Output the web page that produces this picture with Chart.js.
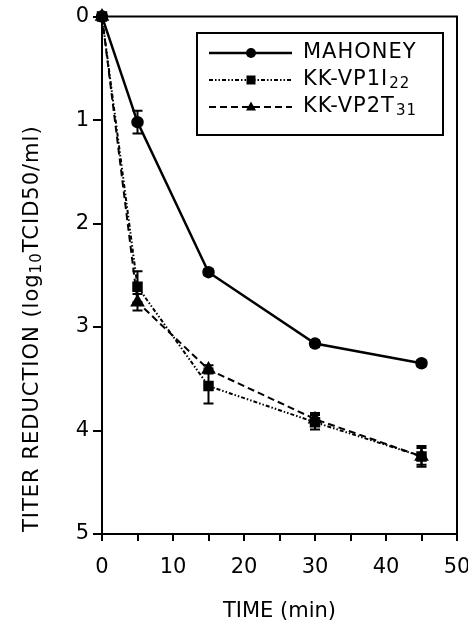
<!DOCTYPE html>
<html>
<head>
<meta charset="utf-8">
<script src="https://cdn.jsdelivr.net/npm/chart.js@4/dist/chart.umd.min.js"></script>
<style>
  body { margin: 0; background: #fff; }
  canvas { display: block; }
</style>
</head>
<body>
<canvas id="titer" width="468" height="624"></canvas>
<script>
// time points (min) and titer reduction (log10 TCID50/ml)
var times = [0, 5, 15, 30, 45];
var mahoney = [0, 1.02, 2.47, 3.16, 3.35];
var mahoneyErr = [0, 0.11, 0.03, 0.03, 0.03];
var vp1 = [0, 2.61, 3.57, 3.92, 4.25];
var vp1Err = [0, 0.15, 0.17, 0.07, 0.1];
var vp2 = [0, 2.76, 3.41, 3.89, 4.25];
var vp2Err = [0, 0.08, 0.04, 0.06, 0.08];
var yTicks = [0, 1, 2, 3, 4, 5];
var xTicks = [0, 10, 20, 30, 40, 50];

var FONT = "'DejaVu Sans', sans-serif";

function points(ys) {
    return times.map(function(t, i) { return { x: t, y: ys[i] }; });
}

// series name with a lowered small number, e.g. KK-VP1I + 22
var legendRows = [
    { main: "MAHONEY", sub: "", style: "circle", dash: [] },
    { main: "KK-VP1I", sub: "22", style: "rect", dash: [4, 2, 1.5, 2, 1.5, 2] },
    { main: "KK-VP2T", sub: "31", style: "triangle", dash: [7, 4] }
];
var errors = [mahoneyErr, vp1Err, vp2Err];

function marker(ctx, style, x, y, r) {
    ctx.beginPath();
    if (style == "circle") {
        ctx.arc(x, y, r, 0, Math.PI * 2);
    } else if (style == "rect") {
        ctx.rect(x - r * 0.9, y - r * 0.9, r * 1.8, r * 1.8);
    } else {
        ctx.moveTo(x, y - r * 1.1);
        ctx.lineTo(x + r, y + r * 0.7);
        ctx.lineTo(x - r, y + r * 0.7);
        ctx.closePath();
    }
    ctx.fill();
}

var extras = {
    id: "extras",
    afterDatasetsDraw: function(chart) {
        var ctx = chart.ctx, xs = chart.scales.x, ys = chart.scales.y;
        var area = chart.chartArea;
        ctx.save();
        ctx.strokeStyle = "#000";
        ctx.fillStyle = "#000";

        // error bars
        ctx.lineWidth = 2;
        chart.data.datasets.forEach(function(ds, i) {
            ds.data.forEach(function(p, j) {
                var e = errors[i][j];
                if (!e) return;
                var x = xs.getPixelForValue(p.x);
                var y0 = ys.getPixelForValue(p.y - e);
                var y1 = ys.getPixelForValue(p.y + e);
                ctx.beginPath();
                ctx.moveTo(x, y0); ctx.lineTo(x, y1);
                ctx.moveTo(x - 5, y0); ctx.lineTo(x + 5, y0);
                ctx.moveTo(x - 5, y1); ctx.lineTo(x + 5, y1);
                ctx.stroke();
            });
        });

        // top and right frame
        ctx.lineWidth = 2;
        ctx.beginPath();
        ctx.moveTo(area.left, area.top);
        ctx.lineTo(area.right, area.top);
        ctx.lineTo(area.right, area.bottom);
        ctx.stroke();

        // legend box
        ctx.lineWidth = 2;
        ctx.strokeRect(197, 33, 246, 102);
        legendRows.forEach(function(row, i) {
            var y = 53 + i * 27;
            ctx.lineWidth = i == 0 ? 2.5 : 2;
            ctx.setLineDash(row.dash);
            ctx.beginPath();
            ctx.moveTo(209, y); ctx.lineTo(292, y);
            ctx.stroke();
            ctx.setLineDash([]);
            marker(ctx, row.style, 251, y, 5);
            ctx.textBaseline = "middle";
            ctx.textAlign = "left";
            ctx.letterSpacing = "1px";
            ctx.font = "21px " + FONT;
            ctx.fillText(row.main, 303, y);
            if (row.sub) {
                var w = ctx.measureText(row.main).width;
                ctx.font = "15px " + FONT;
                ctx.fillText(row.sub, 304 + w, y + 4);
            }
        });

        // y axis title, reading upward, with log subscript
        ctx.translate(33, 532);
        ctx.rotate(-Math.PI / 2);
        ctx.textBaseline = "middle";
        ctx.textAlign = "left";
        ctx.letterSpacing = "1px";
        var parts = [["TITER REDUCTION (log", 21, 0], ["10", 15, 4], ["TCID50/ml)", 21, 0]];
        var px = 0;
        parts.forEach(function(pt) {
            ctx.font = pt[1] + "px " + FONT;
            ctx.fillText(pt[0], px, pt[2]);
            px += ctx.measureText(pt[0]).width;
        });
        ctx.restore();
    }
};

new Chart(document.getElementById("titer"), {
    type: "line",
    data: {
        datasets: [
            {
                label: "MAHONEY", data: points(mahoney),
                borderColor: "#000", backgroundColor: "#000", borderWidth: 2.5,
                pointStyle: "circle", pointRadius: 5
            },
            {
                label: "KK-VP1I22", data: points(vp1),
                borderColor: "#000", backgroundColor: "#000", borderWidth: 2,
                borderDash: legendRows[1].dash,
                pointStyle: "rect", pointRadius: 6
            },
            {
                label: "KK-VP2T31", data: points(vp2),
                borderColor: "#000", backgroundColor: "#000", borderWidth: 2,
                borderDash: legendRows[2].dash,
                pointStyle: "triangle", pointRadius: 6.5
            }
        ]
    },
    options: {
        responsive: false,
        animation: false,
        devicePixelRatio: 1,
        clip: false,
        tension: 0,
        layout: { padding: { top: 16, right: 11, left: 0, bottom: 0 } },
        plugins: { legend: { display: false }, tooltip: { enabled: false } },
        scales: {
            x: {
                type: "linear", min: 0, max: 50,
                afterFit: function(s) { s.height = 90; s.paddingLeft = 0; s.paddingRight = 0; },
                ticks: {
                    stepSize: 5, maxRotation: 0, padding: 14, color: "#000",
                    font: { family: FONT, size: 21 },
                    callback: function(v) { return xTicks.indexOf(v) >= 0 ? v : ""; }
                },
                grid: { drawOnChartArea: false, drawTicks: true, tickLength: 7, color: "#000", lineWidth: 2 },
                border: { color: "#000", width: 2 },
                title: {
                    display: true, text: "TIME (min)", color: "#000",
                    font: { family: FONT, size: 21 }, padding: { top: 0, bottom: 0 }
                }
            },
            y: {
                type: "linear", min: 0, max: 5, reverse: true,
                afterFit: function(s) { s.width = 102; },
                ticks: {
                    stepSize: 1, padding: 4, color: "#000",
                    font: { family: FONT, size: 21 },
                    callback: function(v) { return yTicks.indexOf(v) >= 0 ? v : ""; }
                },
                grid: { drawOnChartArea: false, drawTicks: true, tickLength: 9, color: "#000", lineWidth: 2 },
                border: { color: "#000", width: 2 }
            }
        }
    },
    plugins: [extras]
});
</script>
</body>
</html>
